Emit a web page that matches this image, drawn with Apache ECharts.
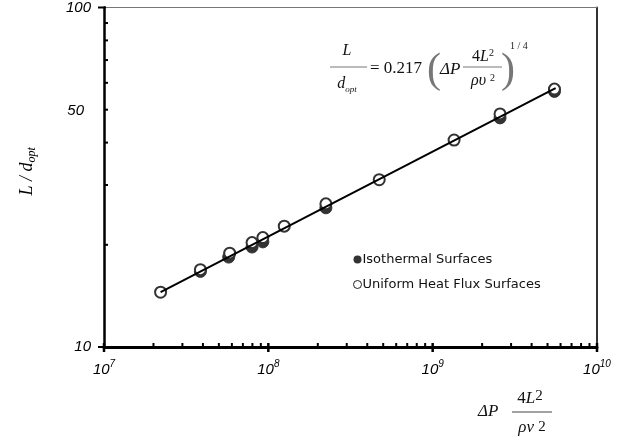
<!DOCTYPE html>
<html><head><meta charset="utf-8">
<script src="https://cdn.jsdelivr.net/npm/echarts@6/dist/echarts.min.js"></script>
<style>html,body{margin:0;padding:0;background:#fff}#c{width:633px;height:441px}</style>
</head><body><div id="c"></div>
<script>
// ---- data ----
const isoX = [3.86e7, 5.74e7, 7.96e7, 9.26e7, 2.24e8, 2.57e9, 5.51e9];
const isoY = [16.7, 18.4, 19.7, 20.4, 25.7, 47.3, 56.6];
const uhfX = [2.21e7, 3.86e7, 5.82e7, 7.96e7, 9.26e7, 1.25e8, 2.24e8, 4.73e8, 1.35e9, 2.57e9, 5.51e9];
const uhfY = [14.5, 16.9, 18.9, 20.3, 21.0, 22.7, 26.4, 31.1, 40.7, 48.6, 57.5];
const fitX = [2.21e7, 5.6e9];
const fitY = [14.5, 57.9];
const seriesNames = ['Isothermal Surfaces', 'Uniform Heat Flux Surfaces'];
const xMinorTicks = [2e7,3e7,4e7,5e7,6e7,7e7,8e7,9e7, 2e8,3e8,4e8,5e8,6e8,7e8,8e8,9e8, 2e9,3e9,4e9,5e9,6e9,7e9,8e9,9e9];
const xMajorTicks = [1e7, 1e8, 1e9, 1e10];
const yMinorTicks = [20,30,40,50,60,70,80,90];
const yMajorTicks = [10, 100];
const yExtraLabels = [50];

const X_MIN = 1e7, X_MAX = 1e10, Y_MIN = 10, Y_MAX = 100;
const sansI = 'italic 15px "Liberation Sans", Arial, sans-serif';
const serif = '"Liberation Serif", "Times New Roman", serif';

function pairs(xs, ys) { return xs.map((x, i) => [x, ys[i]]); }

const chart = echarts.init(document.getElementById('c'), null, {renderer: 'canvas'});

const supRich = {
  b: {fontSize: 15, fontStyle: 'italic', fontFamily: 'Liberation Sans', color: '#000', lineHeight: 22},
  s: {fontSize: 10, fontStyle: 'italic', fontFamily: 'Liberation Sans', color: '#000', lineHeight: 13, verticalAlign: 'top'}
};

const option = {
  animation: false,
  backgroundColor: '#fff',
  grid: {left: 104, right: 36, top: 7, bottom: 94, show: false},
  xAxis: [{
    type: 'log', logBase: 10, min: X_MIN, max: X_MAX, position: 'bottom',
    axisLine: {show: true, onZero: false, lineStyle: {color: '#000', width: 3}},
    axisTick: {show: false},
    splitLine: {show: false},
    axisLabel: {
      margin: 12,
      formatter: v => '{b|10}{s|' + Math.round(Math.log10(v)) + '}',
      rich: supRich
    }
  }, {
    type: 'log', logBase: 10, min: X_MIN, max: X_MAX, position: 'top',
    axisLine: {show: true, lineStyle: {color: '#777', width: 1}},
    axisTick: {show: false}, axisLabel: {show: false}, splitLine: {show: false}
  }],
  yAxis: [{
    type: 'log', logBase: 10, min: Y_MIN, max: Y_MAX, position: 'left',
    axisLine: {show: true, onZero: false, lineStyle: {color: '#000', width: 2.5}},
    axisTick: {show: false},
    splitLine: {show: false},
    axisLabel: {margin: 13, color: '#000', fontStyle: 'italic', fontSize: 15, fontFamily: 'Liberation Sans'},
    name: '{i|L / d}{s|opt}',
    nameLocation: 'middle', nameGap: 66, nameRotate: 90,
    nameTextStyle: {
      padding: [0, 0, 0, 12],
      rich: {
        i: {fontFamily: 'Liberation Serif', fontStyle: 'italic', fontSize: 18, color: '#000', lineHeight: 22},
        s: {fontFamily: 'Liberation Serif', fontStyle: 'italic', fontSize: 12, color: '#000', lineHeight: 12, verticalAlign: 'bottom'}
      }
    }
  }, {
    type: 'log', logBase: 10, min: Y_MIN, max: Y_MAX, position: 'right',
    axisLine: {show: true, lineStyle: {color: '#333', width: 2}},
    axisTick: {show: false}, axisLabel: {show: false}, splitLine: {show: false}
  }],
  legend: {
    orient: 'vertical', left: 348, top: 248, itemGap: 12,
    itemWidth: 8, itemHeight: 8, icon: 'circle',
    data: [
      {name: seriesNames[0], itemStyle: {color: '#333', borderColor: '#333', borderWidth: 0}},
      {name: seriesNames[1], itemStyle: {color: '#fff', borderColor: '#222', borderWidth: 1}}
    ],
    textStyle: {fontFamily: 'DejaVu Sans', fontSize: 13, color: '#111', padding: [0, 0, 0, -4]}
  },
  series: [
    {
      name: seriesNames[0], type: 'scatter', data: pairs(isoX, isoY),
      symbol: 'circle', symbolSize: 12, z: 3,
      itemStyle: {color: '#333', borderColor: '#333', borderWidth: 1, opacity: 1}
    },
    {
      name: seriesNames[1], type: 'scatter', data: pairs(uhfX, uhfY),
      symbol: 'circle', symbolSize: 11, z: 4,
      itemStyle: {color: '#fff', borderColor: '#333', borderWidth: 2, opacity: 1}
    },
    {
      name: 'fit', type: 'line', data: pairs(fitX, fitY), showSymbol: false, symbol: 'none',
      lineStyle: {color: '#000', width: 2}, z: 5, silent: true
    },
    { // x-axis ticks (minor inside, major crossing)
      name: 'xticks', type: 'custom', silent: true, z: 6, clip: false,
      data: xMinorTicks.map(v => [v, Y_MIN, 0]).concat(xMajorTicks.map(v => [v, Y_MIN, 1])),
      renderItem: (params, api) => {
        const p = api.coord([api.value(0), api.value(1)]);
        const major = api.value(2) === 1;
        return {type: 'line', shape: {x1: p[0], y1: p[1] + (major ? 5 : 0), x2: p[0], y2: p[1] - 4},
          style: {stroke: '#000', lineWidth: major ? 2.5 : 2}};
      }
    },
    { // y-axis ticks and the extra 50 label
      name: 'yticks', type: 'custom', silent: true, z: 6, clip: false,
      data: yMinorTicks.map(v => [X_MIN, v, 0]).concat(yMajorTicks.map(v => [X_MIN, v, 1])),
      renderItem: (params, api) => {
        const v = api.value(1);
        const p = api.coord([api.value(0), v]);
        const major = api.value(2) === 1;
        const children = [{type: 'line', shape: {x1: p[0] - (major ? 6 : 0), y1: p[1], x2: p[0] + (major ? 2 : 4), y2: p[1]},
          style: {stroke: '#000', lineWidth: 2}}];
        if (yExtraLabels.indexOf(v) >= 0) {
          children.push({type: 'text', style: {text: String(v), x: p[0] - 20, y: p[1] + 1, align: 'right', verticalAlign: 'middle',
            font: sansI, fill: '#000'}});
        }
        return {type: 'group', children};
      }
    }
  ],
  graphic: [
    // in-plot correlation formula
    {type: 'text', style: {text: 'L', x: 347, y: 51, align: 'center', verticalAlign: 'middle', font: 'italic 16px ' + serif, fill: '#111'}},
    {type: 'line', shape: {x1: 330, y1: 67, x2: 367, y2: 67}, style: {stroke: '#777', lineWidth: 1}},
    {type: 'text', style: {text: '{d|d}{s|opt}', x: 347, y: 84, align: 'center', verticalAlign: 'middle',
      rich: {d: {font: 'italic 16px ' + serif, fill: '#111', lineHeight: 20}, s: {font: 'italic 9px ' + serif, fill: '#111', lineHeight: 9, verticalAlign: 'bottom'}}}},
    {type: 'text', style: {text: '= 0.217', x: 370, y: 69, align: 'left', verticalAlign: 'middle', font: '17px ' + serif, fill: '#111'}},
    {type: 'text', style: {text: '(', x: 427, y: 71, align: 'left', verticalAlign: 'middle', font: '42px ' + serif, fill: '#777'}},
    {type: 'text', style: {text: 'ΔP', x: 440, y: 70, align: 'left', verticalAlign: 'middle', font: 'italic 17px ' + serif, fill: '#111'}},
    {type: 'text', style: {text: '4{i|L}{p|2}', x: 483, y: 57, align: 'center', verticalAlign: 'middle',
      rich: {i: {font: 'italic 16px ' + serif, fill: '#111', lineHeight: 18}, p: {font: '10px ' + serif, fill: '#111', lineHeight: 10, verticalAlign: 'top'}},
      font: '16px ' + serif, fill: '#111'}},
    {type: 'line', shape: {x1: 463, y1: 67, x2: 502, y2: 67}, style: {stroke: '#777', lineWidth: 1}},
    {type: 'text', style: {text: 'ρυ {p|2}', x: 483, y: 81, align: 'center', verticalAlign: 'middle',
      rich: {p: {font: '10px ' + serif, fill: '#111', lineHeight: 10, verticalAlign: 'top'}},
      font: 'italic 16px ' + serif, fill: '#111'}},
    {type: 'text', style: {text: ')', x: 501, y: 71, align: 'left', verticalAlign: 'middle', font: '42px ' + serif, fill: '#777'}},
    {type: 'text', style: {text: '1 / 4', x: 510, y: 46, align: 'left', verticalAlign: 'middle', font: '10px ' + serif, fill: '#222'}},
    // x-axis title
    {type: 'text', style: {text: 'ΔP', x: 478, y: 412, align: 'left', verticalAlign: 'middle', font: 'italic 17px ' + serif, fill: '#111'}},
    {type: 'text', style: {text: '4{i|L}{p|2}', x: 530, y: 399, align: 'center', verticalAlign: 'middle',
      rich: {i: {font: 'italic 17px ' + serif, fill: '#111', lineHeight: 20}, p: {font: '15px ' + serif, fill: '#111', lineHeight: 14, verticalAlign: 'top'}},
      font: '17px ' + serif, fill: '#111'}},
    {type: 'line', shape: {x1: 512, y1: 412, x2: 552, y2: 412}, style: {stroke: '#444', lineWidth: 1}},
    {type: 'text', style: {text: 'ρν {p|2}', x: 532, y: 428, align: 'center', verticalAlign: 'middle',
      rich: {p: {font: '15px ' + serif, fill: '#111', lineHeight: 14, verticalAlign: 'top'}},
      font: 'italic 17px ' + serif, fill: '#111'}}
  ]
};
chart.setOption(option);
</script>
</body></html>
